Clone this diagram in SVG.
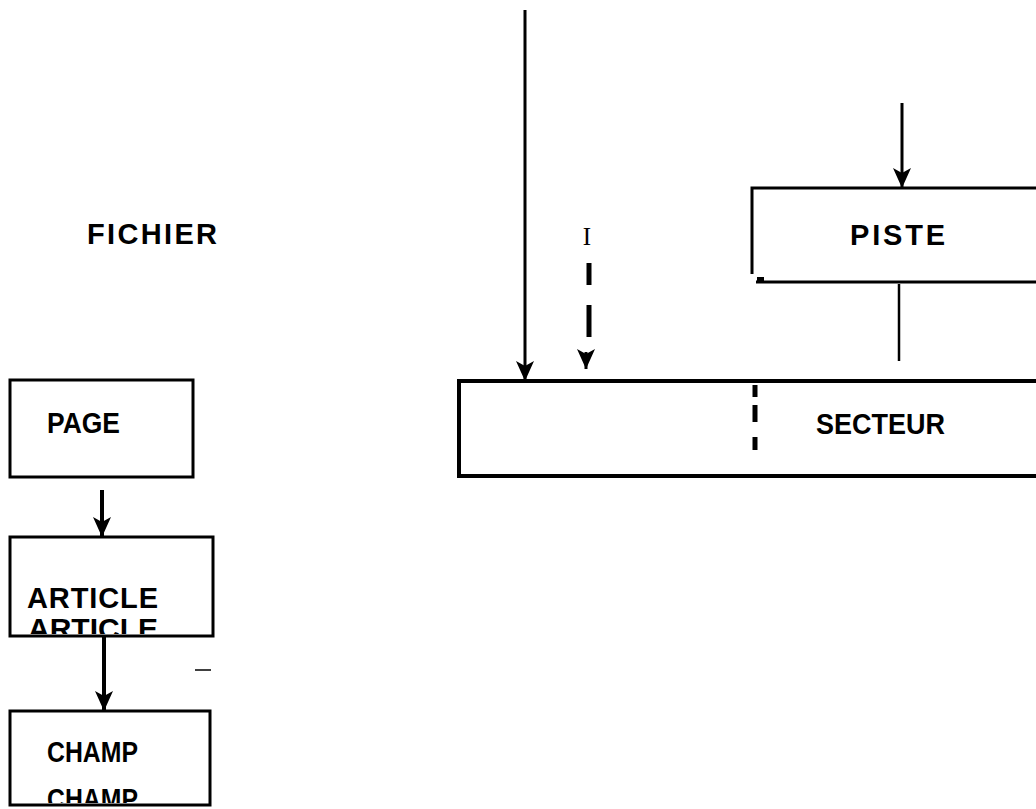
<svg xmlns="http://www.w3.org/2000/svg" width="1036" height="809" viewBox="0 0 1036 809">
<style>
.box{fill:none;stroke:#000;stroke-width:3}
.big{fill:none;stroke:#000;stroke-width:4}
.lbl{font-family:"Liberation Sans",Arial,sans-serif;font-weight:bold;font-size:29px;fill:#000}
.lbl2{font-family:"Liberation Sans",Arial,sans-serif;font-weight:bold;font-size:29px;fill:#000}
.ser{font-family:"Liberation Serif","Times New Roman",serif;font-size:25px;fill:#000}
.conn{stroke:#000;stroke-width:3;fill:none}
.dash{stroke:#000;stroke-width:5;fill:none}
</style>
<defs>
<marker id="ah" markerUnits="userSpaceOnUse" viewBox="-22 -10 24 20" refX="0" refY="0" markerWidth="24" markerHeight="20" orient="auto">
<path d="M0,0 L-20,-9 L-15,0 L-20,9 Z" fill="#000"/>
</marker>
<clipPath id="clipArt"><rect x="10" y="537" width="203" height="97"/></clipPath>
<clipPath id="clipCh"><rect x="10" y="711" width="200" height="92"/></clipPath>
</defs>
<rect width="1036" height="809" fill="#fff"/>

<g id="fichier">
<text class="lbl" x="87" y="244" textLength="130" lengthAdjust="spacing">FICHIER</text>
</g>

<g id="page">
<rect class="box" x="10" y="380" width="183" height="97"/>
<text class="lbl" x="47" y="433" textLength="73" lengthAdjust="spacingAndGlyphs">PAGE</text>
</g>

<g id="article">
<text class="lbl2" x="28" y="639" textLength="130" lengthAdjust="spacingAndGlyphs" clip-path="url(#clipArt)">ARTICLE</text>
<rect class="box" x="10" y="537" width="203" height="99"/>
<text class="lbl" x="27" y="608" textLength="131" lengthAdjust="spacing">ARTICLE</text>
</g>

<g id="champ">
<text class="lbl2" x="47" y="809" textLength="91" lengthAdjust="spacingAndGlyphs" clip-path="url(#clipCh)">CHAMP</text>
<rect class="box" x="10" y="711" width="200" height="94"/>
<text class="lbl" x="47" y="762" textLength="91" lengthAdjust="spacingAndGlyphs">CHAMP</text>
</g>

<g id="secteur">
<path class="big" d="M1040,381 H459 V476 H1040"/>
<text class="lbl2" x="816" y="434" textLength="129" lengthAdjust="spacingAndGlyphs">SECTEUR</text>
</g>

<g id="piste">
<path class="box" d="M1040,188 H752 V274"/>
<path class="box" d="M756,282 H1040"/>
<rect x="757" y="277" width="7" height="6" fill="#000"/>
<text class="lbl" x="850" y="245" textLength="95" lengthAdjust="spacing">PISTE</text>
</g>

<g id="label-i">
<text class="ser" x="587" y="245" text-anchor="middle">I</text>
</g>

<g id="connectors">
<line class="conn" x1="525" y1="10" x2="525" y2="381" marker-end="url(#ah)"/>
<line class="dash" x1="589" y1="263" x2="589" y2="285"/>
<line class="dash" x1="589" y1="305" x2="589" y2="337"/>
<line class="conn" x1="586" y1="352" x2="586" y2="369" marker-end="url(#ah)"/>
<line class="conn" x1="902" y1="103" x2="902" y2="188" marker-end="url(#ah)"/>
<line class="conn" x1="899" y1="284" x2="899" y2="361" style="stroke-width:2.5"/>
<line class="dash" x1="755" y1="385" x2="755" y2="397"/>
<line class="dash" x1="755" y1="405" x2="755" y2="422"/>
<line class="dash" x1="755" y1="437" x2="755" y2="450"/>
<line class="conn" x1="102" y1="490" x2="102" y2="537" marker-end="url(#ah)" style="stroke-width:4"/>
<line class="conn" x1="104" y1="636" x2="104" y2="711" marker-end="url(#ah)" style="stroke-width:4"/>
<line x1="195" y1="670" x2="211" y2="670" stroke="#000" stroke-width="1.5"/>
</g>
</svg>
